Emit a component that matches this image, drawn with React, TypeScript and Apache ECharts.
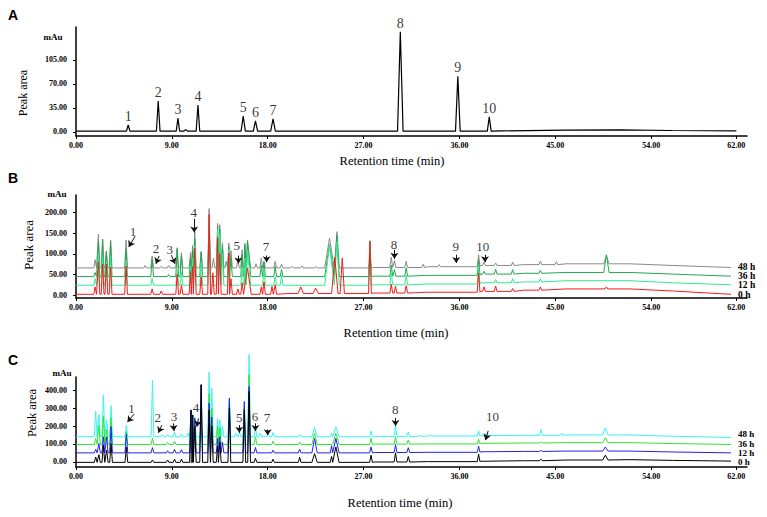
import React, { useEffect, useRef } from "react";
import * as echarts from "echarts";

const SERIF = "'Liberation Serif', 'Times New Roman', serif";
const SANS = "'Liberation Sans', Arial, sans-serif";

const X_TICKS = [0, 9, 18, 27, 36, 45, 54, 62];
const A_Y_TICKS = [0, 35, 70, 105];
const B_Y_TICKS = [0, 50, 100, 150, 200];
const C_Y_TICKS = [0, 100, 200, 300, 400];
const TRACE_NAMES = ["48 h", "36 h", "12 h", "0 h"];

// ---------- Panel A : standards ----------
const A_BASE = [[0, 1], [30, 1], [40, 1.5], [46, 2.5], [51, 3], [56, 2], [62, 1.5]];
// [time, apex, half width]
const A_PEAKS = [
  [4.9, 10, 0.16], [7.72, 45, 0.17], [9.57, 20, 0.16], [10.3, 3, 0.2], [11.45, 39, 0.17],
  [15.7, 23, 0.2], [16.85, 16, 0.2], [18.5, 19, 0.22], [30.45, 146, 0.26], [35.85, 81, 0.22],
  [38.8, 22, 0.18],
];
const A_LABELS = [
  ["1", 4.9, 10], ["2", 7.72, 45], ["3", 9.57, 20], ["4", 11.45, 39], ["5", 15.7, 23],
  ["6", 16.85, 16], ["7", 18.5, 19], ["8", 30.45, 146], ["9", 35.85, 81], ["10", 38.8, 22],
];

// ---------- Panel B ----------
const B_GRAY_BASE = [[0, 66], [20, 66], [28, 67], [33, 69], [38, 72], [42, 74], [46, 76], [52, 76], [56, 72], [61.5, 67]];
const B_GRAY_PEAKS = [
  [1.8, 86], [2.1, 148], [2.5, 136], [2.85, 107], [3.25, 134], [4.7, 134], [6.5, 72], [7.15, 95],
  [8.0, 70], [8.7, 72], [9.5, 115], [9.9, 103], [10.75, 103], [10.95, 120], [11.15, 154], [11.75, 106],
  [12.5, 210], [12.9, 90], [13.3, 174], [13.5, 171], [13.75, 127], [14.1, 82], [14.35, 126], [14.55, 108],
  [15.2, 88], [15.6, 110], [15.85, 126], [16.1, 134, 0.3], [16.9, 76], [17.4, 90], [17.65, 80], [18.7, 82],
  [19.3, 75], [20.3, 70], [21.2, 71], [22.5, 70], [23.8, 138, 0.45], [24.5, 154, 0.22], [27.6, 86],
  [29.6, 92], [29.9, 84], [31.0, 82], [32.6, 75], [34.1, 74], [37.8, 98], [38.3, 80], [39.4, 78],
  [41.0, 80], [43.6, 82], [45.1, 81], [49.8, 96, 0.25],
];
const B_DG_BASE = [[0, 45], [20, 45], [28, 46], [33, 48], [38, 51], [42, 53], [46, 55], [52, 55], [56, 51], [61.5, 46]];
const B_DG_PEAKS = [
  [1.8, 55], [2.1, 130], [2.5, 135], [2.85, 105], [3.25, 130], [4.7, 110], [7.15, 88], [8.7, 50],
  [9.5, 112], [9.9, 95], [10.75, 90], [10.95, 110], [11.15, 138], [11.75, 104], [12.5, 175], [13.3, 167],
  [13.5, 160], [13.75, 120], [14.35, 118], [14.55, 90], [15.6, 100], [15.85, 122], [16.1, 130, 0.3],
  [17.4, 72], [17.65, 82], [18.7, 70], [19.3, 62], [23.8, 122, 0.45], [24.5, 145, 0.22], [27.6, 132],
  [29.6, 72], [29.9, 62], [31.0, 66], [37.8, 86], [38.3, 58], [39.4, 63], [41.0, 62], [43.6, 60],
  [49.8, 98, 0.25],
];
const B_LG_BASE = [[0, 24], [20, 24], [28, 25], [33, 27], [38, 30], [42, 32], [46, 35], [52, 35], [56, 30], [61.5, 25]];
const B_LG_PEAKS = [
  [1.8, 40], [2.1, 100], [2.5, 95], [2.85, 80], [3.25, 95], [4.7, 85], [7.15, 40], [9.5, 62],
  [9.9, 55], [10.75, 70], [10.95, 90], [11.15, 120], [11.75, 80], [12.5, 180], [13.3, 160], [13.5, 150],
  [13.75, 100], [14.35, 110], [15.6, 70], [15.85, 90], [16.1, 110, 0.3], [17.65, 60], [18.7, 45],
  [19.3, 48], [23.8, 120, 0.45], [24.5, 130, 0.22], [27.6, 128], [29.6, 55], [31.0, 48], [37.8, 68],
  [39.4, 38], [41.0, 40], [43.6, 40],
];
const B_RED_BASE = [[0, 2], [20, 4], [28, 5], [33, 7], [38, 9], [42, 12], [46, 15], [52, 15], [56, 10], [61.5, 2]];
const B_RED_PEAKS = [
  [1.8, 20], [2.1, 80], [2.5, 75], [2.85, 75], [3.25, 68], [4.7, 70], [7.15, 15], [8.0, 10], [9.5, 50],
  [9.9, 25], [10.75, 57], [10.95, 69], [11.15, 114], [11.75, 45], [12.5, 196], [12.85, 54], [13.3, 140],
  [13.5, 100], [14.35, 102], [14.55, 40], [15.2, 15], [15.6, 30], [16.1, 66, 0.35], [17.4, 20],
  [17.65, 32], [18.4, 21], [18.7, 25], [21.1, 20, 0.25], [22.5, 17, 0.25], [24.3, 92, 0.3],
  [25.0, 90, 0.2], [27.6, 130], [29.6, 27], [30.0, 22], [31.0, 23], [37.8, 54], [38.3, 20], [39.4, 22],
  [41.0, 16], [43.6, 20], [49.8, 20],
];
// [label, labelTime, labelValue, arrowFromTime, arrowFromValue, arrowToTime, arrowToValue]
const B_MARKS = [
  ["1", 5.35, 155, 5.55, 143, 4.95, 117],
  ["2", 7.5, 112, 7.8, 95, 7.5, 76],
  ["3", 8.8, 110, 8.95, 97, 9.3, 76],
  ["4", 11.05, 200, 11.1, 185, 11.1, 152],
  ["5", 15.1, 120, 15.25, 96, 15.25, 77],
  ["7", 17.85, 118, 17.9, 96, 17.9, 80],
  ["8", 29.85, 122, 29.9, 110, 29.9, 88],
  ["9", 35.65, 118, 35.7, 98, 35.7, 78],
  ["10", 38.2, 118, 38.4, 98, 38.4, 80],
];

// ---------- Panel C ----------
const C_CYAN_BASE = [[0, 140], [20, 140], [28, 142], [33, 144], [38, 146], [42, 148], [46, 150], [52, 150], [56, 143], [61.5, 136]];
const C_CYAN_PEAKS = [
  [1.85, 284], [2.15, 264], [2.57, 374], [2.88, 234], [3.29, 314], [4.73, 205], [7.18, 455], [8.1, 152],
  [8.6, 155], [9.25, 168], [9.9, 156], [10.5, 160], [10.8, 262], [11.0, 262], [11.15, 250], [11.75, 200],
  [12.5, 502], [12.75, 412], [13.3, 243], [13.5, 234], [13.75, 200], [14.4, 355], [15.0, 160],
  [15.35, 165], [15.8, 200], [16.25, 600], [16.85, 196], [17.3, 160], [18.0, 160], [18.5, 163],
  [21.0, 153], [22.4, 192, 0.25], [24.0, 160], [24.4, 195, 0.3], [27.7, 171], [30.0, 202], [31.2, 167],
  [32.3, 150], [33.2, 152], [37.8, 173], [38.5, 160], [43.65, 180], [45.6, 160], [49.7, 190, 0.25],
];
const C_GREEN_BASE = [[0, 97], [20, 97], [28, 99], [33, 100], [38, 103], [42, 105], [46, 107], [52, 107], [56, 102], [61.5, 97]];
const C_GREEN_PEAKS = [
  [1.85, 130], [2.15, 205], [2.57, 254], [2.88, 180], [3.29, 243], [4.73, 169], [7.18, 132], [8.6, 108],
  [9.25, 115], [10.8, 250], [11.15, 230], [11.75, 230], [12.5, 380], [12.75, 300], [13.3, 200],
  [13.5, 190], [14.4, 330], [15.8, 300], [16.25, 487], [16.85, 140], [18.5, 115], [21.0, 110],
  [22.4, 160, 0.25], [24.4, 160, 0.3], [27.7, 131], [30.0, 140], [31.2, 122], [37.8, 127], [43.65, 113],
  [49.7, 134, 0.25],
];
const C_BLUE_BASE = [[0, 50], [20, 50], [28, 52], [33, 53], [38, 56], [42, 58], [46, 60], [52, 60], [56, 55], [61.5, 50]];
const C_BLUE_PEAKS = [
  [1.85, 70], [2.15, 102], [2.57, 140], [2.88, 140], [3.29, 197], [4.73, 155], [7.18, 79], [8.6, 62],
  [9.25, 70], [9.9, 68], [10.8, 290], [10.95, 262], [11.15, 244], [11.75, 431], [12.5, 328], [12.75, 250],
  [13.3, 131], [13.5, 140], [13.75, 110], [14.4, 355], [15.8, 337], [16.25, 421], [16.85, 80], [18.5, 65],
  [21.0, 70], [22.4, 130, 0.25], [24.0, 90], [24.4, 131, 0.3], [27.7, 83], [30.0, 97], [31.2, 79],
  [37.8, 87], [43.65, 64], [49.7, 83, 0.25],
];
const C_BLACK_BASE = [[0, -3], [20, -3], [28, -1], [33, 1], [38, 3], [42, 6], [46, 10], [52, 12], [56, 8], [61.5, 4]];
const C_BLACK_PEAKS = [
  [1.85, 27], [2.15, 40], [2.57, 93], [2.88, 65], [3.29, 102], [4.73, 83], [7.18, 10], [8.6, 10],
  [9.25, 15], [9.9, 15], [10.8, 290], [10.95, 262], [11.15, 200], [11.75, 431], [12.5, 290], [12.75, 200],
  [13.3, 90], [13.5, 110], [14.4, 300], [15.8, 290], [16.25, 393], [16.85, 20], [18.5, 15], [21.0, 25],
  [22.4, 46, 0.25], [24.0, 30], [24.4, 83, 0.3], [27.7, 37], [30.0, 50], [31.2, 30], [37.8, 42],
  [43.65, 15], [49.7, 37, 0.25],
];
const C_MARKS = [
  ["1", 5.2, 300, 5.46, 267, 4.83, 222],
  ["2", 7.68, 249, 8.06, 205, 7.74, 162],
  ["3", 9.2, 252, 9.15, 215, 9.2, 172],
  ["4", 11.26, 303, 11.5, 243, 11.35, 196],
  ["5", 15.33, 249, 15.33, 205, 15.33, 162],
  ["6", 16.8, 256, 16.84, 215, 16.84, 172],
  ["7", 17.94, 249, 18.0, 180, 18.0, 149],
  ["8", 29.98, 294, 30.0, 245, 30.0, 200],
  ["10", 39.1, 252, 38.7, 173, 38.45, 121],
];

const B_COLORS = ["#8a8a8a", "#22a84f", "#35eb90", "#f41c1c"];
const C_COLORS = ["#38f4f4", "#2ee82e", "#2323f0", "#000000"];
const B_LABEL_OFFSETS = [[0, -1], [0, 0], [0, 0], [0, 0.5]];
const C_LABEL_OFFSETS = [[0, -3], [0, -0.8], [0, 0], [0, 0.5]];

// build a trace polyline from baseline knots and peak list
function trace(knots: number[][], peaks: number[][], defHw = 0.13) {
  const pts: number[][] = knots.map((k) => [k[0], k[1]]);
  for (const p of peaks) {
    const t = p[0];
    const apex = p[1];
    const hw = p[2] ?? defHw;
    let base = knots[0][1];
    for (const k of knots) if (k[0] <= t) base = k[1];
    pts.push([t - hw, base], [t, apex], [t + hw, base]);
  }
  pts.sort((a, b) => a[0] - b[0]);
  return pts;
}

const TICK_RICH = {
  k: { color: "#000000", fontFamily: SERIF, fontWeight: "bold", fontSize: 8 },
};

function xAxis(gridIndex: number) {
  return {
    type: "value",
    gridIndex,
    min: 0,
    max: 63,
    axisLine: { show: true, onZero: false, lineStyle: { color: "#000", width: 1.5 } },
    axisTick: { show: true, customValues: X_TICKS, length: 3, lineStyle: { color: "#000", width: 1 } },
    axisLabel: {
      customValues: X_TICKS,
      formatter: (v: number) => `{k|${v.toFixed(2)}}`,
      rich: TICK_RICH,
      fontFamily: SERIF,
      fontWeight: "bold",
      fontSize: 8,
      color: "#000000",
      margin: 5,
    },
    splitLine: { show: false },
  };
}

function yAxis(gridIndex: number, min: number, max: number, ticks: number[]) {
  return {
    type: "value",
    gridIndex,
    min,
    max,
    axisLine: { show: true, onZero: false, lineStyle: { color: "#000", width: 1.5 } },
    axisTick: { show: true, customValues: ticks, length: 3, lineStyle: { color: "#000", width: 1 } },
    axisLabel: {
      customValues: ticks,
      formatter: (v: number) => `{k|${v.toFixed(2)}}`,
      rich: TICK_RICH,
      fontFamily: SERIF,
      fontWeight: "bold",
      fontSize: 8,
      color: "#000000",
      margin: 9,
    },
    splitLine: { show: false },
  };
}

function traceSeries(idx: number, name: string, color: string, data: number[][], offset: number[], fs: number) {
  return {
    type: "line",
    name,
    xAxisIndex: idx,
    yAxisIndex: idx,
    data,
    symbol: "none",
    showSymbol: false,
    clip: false,
    silent: true,
    lineStyle: { color, width: 1 },
    endLabel: {
      show: true,
      formatter: "{a}",
      distance: 7,
      offset,
      color: "#000",
      fontFamily: SERIF,
      fontWeight: "bold",
      fontSize: fs,
      lineHeight: fs,
    },
  };
}

function markSeries(idx: number, marks: any[]) {
  return [
    {
      type: "scatter",
      xAxisIndex: idx,
      yAxisIndex: idx,
      symbolSize: 1,
      itemStyle: { color: "rgba(0,0,0,0)" },
      silent: true,
      z: 6,
      data: marks.map((m) => ({ name: m[0], value: [m[1], m[2]] })),
      label: {
        show: true,
        position: "inside",
        formatter: "{b}",
        fontFamily: SERIF,
        fontSize: 13,
        color: "#000",
      },
    },
    {
      type: "lines",
      coordinateSystem: "cartesian2d",
      xAxisIndex: idx,
      yAxisIndex: idx,
      symbol: ["none", "arrow"],
      symbolSize: 6,
      silent: true,
      z: 6,
      lineStyle: { color: "#111", width: 1, opacity: 1, curveness: 0 },
      data: marks.map((m) => ({ coords: [[m[3], m[4]], [m[5], m[6]]] })),
    },
  ];
}

function txt(text: string, x: number, y: number, font: string, rotation = 0) {
  return {
    type: "text",
    x,
    y,
    rotation,
    silent: true,
    style: {
      text,
      font,
      fill: "#000",
      align: "center",
      verticalAlign: "middle",
      textAlign: "center",
      textVerticalAlign: "middle",
    },
  };
}

export default function App() {
  const ref = useRef<HTMLDivElement>(null);
  useEffect(() => {
    if (!ref.current) return;
    const chart = echarts.init(ref.current, null, { renderer: "svg" });
    const bBases = [B_GRAY_BASE, B_DG_BASE, B_LG_BASE, B_RED_BASE];
    const bPeaks = [B_GRAY_PEAKS, B_DG_PEAKS, B_LG_PEAKS, B_RED_PEAKS];
    const cBases = [C_CYAN_BASE, C_GREEN_BASE, C_BLUE_BASE, C_BLACK_BASE];
    const cPeaks = [C_CYAN_PEAKS, C_GREEN_PEAKS, C_BLUE_PEAKS, C_BLACK_PEAKS];

    const series: any[] = [
      {
        type: "line",
        xAxisIndex: 0,
        yAxisIndex: 0,
        data: trace(A_BASE, A_PEAKS, 0.17),
        symbol: "none",
        showSymbol: false,
        clip: false,
        silent: true,
        lineStyle: { color: "#000", width: 1.2 },
      },
      {
        type: "scatter",
        xAxisIndex: 0,
        yAxisIndex: 0,
        symbolSize: 1,
        itemStyle: { color: "rgba(0,0,0,0)" },
        silent: true,
        data: A_LABELS.map((m) => ({ name: m[0], value: [m[1], m[2]] })),
        label: {
          show: true,
          position: "top",
          distance: 1,
          formatter: "{b}",
          fontFamily: SERIF,
          fontSize: 14,
          color: "#000",
        },
      },
    ];
    TRACE_NAMES.forEach((n, i) =>
      series.push(traceSeries(1, n, B_COLORS[i], trace(bBases[i], bPeaks[i]), B_LABEL_OFFSETS[i], 9.5))
    );
    series.push(...markSeries(1, B_MARKS));
    TRACE_NAMES.forEach((n, i) =>
      series.push(traceSeries(2, n, C_COLORS[i], trace(cBases[i], cPeaks[i]), C_LABEL_OFFSETS[i], 9))
    );
    series.push(...markSeries(2, C_MARKS));

    const serif = (w: string, s: number) => `${w} ${s}px ${SERIF}`;
    chart.setOption({
      animation: false,
      backgroundColor: "#fff",
      textStyle: { color: "#000" },
      grid: [
        { left: 76, right: 20, top: 27, height: 109 },
        { left: 76, right: 20, top: 195, height: 103 },
        { left: 76, right: 20, top: 377, height: 90 },
      ],
      xAxis: [xAxis(0), xAxis(1), xAxis(2)],
      yAxis: [
        yAxis(0, -6, 153, A_Y_TICKS),
        yAxis(1, -7, 243, B_Y_TICKS),
        yAxis(2, -29, 474, C_Y_TICKS),
      ],
      series,
      graphic: [
        txt("A", 13, 15, `bold 14px ${SANS}`),
        txt("B", 13, 178, `bold 14px ${SANS}`),
        txt("C", 13, 360, `bold 14px ${SANS}`),
        txt("mAu", 53, 37, serif("bold", 9)),
        txt("mAu", 57, 194, serif("bold", 9)),
        txt("mAu", 62, 373, serif("bold", 9)),
        txt("Peak area", 23, 93, serif("normal", 12), Math.PI / 2),
        txt("Peak area", 28, 245, serif("normal", 13), Math.PI / 2),
        txt("Peak area", 32, 413, serif("normal", 12.5), Math.PI / 2),
        txt("Retention time (min)", 392, 161, serif("normal", 12.5)),
        txt("Retention time (min)", 396, 333, serif("normal", 12.5)),
        txt("Retention time (min)", 400, 503, serif("normal", 12.5)),
      ],
    });
    return () => chart.dispose();
  }, []);
  return (
    <div
      ref={ref}
      style={{ position: "fixed", left: 0, top: 0, width: 767, height: 517, background: "#fff" }}
    />
  );
}
